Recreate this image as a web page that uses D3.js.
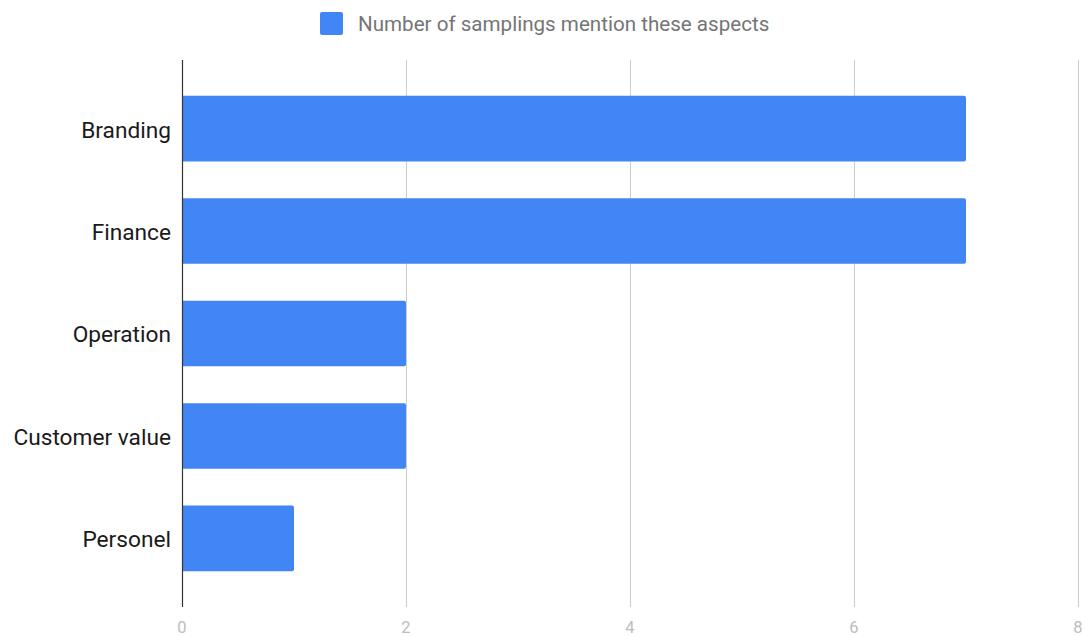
<!DOCTYPE html>
<html>
<head>
<meta charset="utf-8">
<script src="https://cdn.jsdelivr.net/npm/d3@7"></script>
<style>
  body { margin: 0; background: #fff; }
  svg { display: block; font-family: Roboto, sans-serif; }
</style>
</head>
<body>
<svg id="chart" width="1086" height="636"></svg>
<script>
var categories = ["Branding", "Finance", "Operation", "Customer value", "Personel"];
var values = [7, 7, 2, 2, 1];
var xTicks = [0, 2, 4, 6, 8];
var seriesName = "Number of samplings mention these aspects";

var svg = d3.select("#chart");
var plotLeft = 182, plotRight = 1078, plotTop = 60, plotBottom = 607;

var x = d3.scaleLinear().domain([0, 8]).range([plotLeft, plotRight]);
var y = d3.scaleBand().domain(categories).range([plotTop, plotBottom])
    .paddingInner(0.36).paddingOuter(0.35);

// gridlines
svg.selectAll(".grid")
    .data(xTicks.filter(d => d > 0))
    .enter().append("line")
    .attr("x1", d => x(d) + 0.5).attr("x2", d => x(d) + 0.5)
    .attr("y1", plotTop).attr("y2", plotBottom)
    .attr("stroke", "#cccccc").attr("stroke-width", 1);

// tick labels
svg.selectAll(".tick")
    .data(xTicks)
    .enter().append("text")
    .attr("x", d => x(d)).attr("y", 633)
    .attr("text-anchor", "middle")
    .attr("font-size", "16.5px")
    .attr("fill", "#bdbdbd")
    .text(d => d);

// bars with rounded right end
var r = 2;
svg.selectAll(".bar")
    .data(categories)
    .enter().append("path")
    .attr("fill", "#4285f4")
    .attr("d", function(d, i) {
        var x0 = x(0), x1 = x(values[i]), y0 = y(d), h = y.bandwidth();
        return "M" + x0 + "," + y0 + "H" + (x1 - r) +
            "Q" + x1 + "," + y0 + " " + x1 + "," + (y0 + r) +
            "V" + (y0 + h - r) +
            "Q" + x1 + "," + (y0 + h) + " " + (x1 - r) + "," + (y0 + h) +
            "H" + x0 + "Z";
    });

// axis line
svg.append("line")
    .attr("x1", plotLeft + 0.5).attr("x2", plotLeft + 0.5)
    .attr("y1", plotTop).attr("y2", plotBottom)
    .attr("stroke", "#333333").attr("stroke-width", 1.2);

// category labels
svg.selectAll(".cat")
    .data(categories)
    .enter().append("text")
    .attr("x", 171)
    .attr("y", d => y(d) + y.bandwidth() / 2 + 1)
    .attr("dy", "0.35em")
    .attr("text-anchor", "end")
    .attr("font-size", "22.7px")
    .attr("fill", "#1a1a1a")
    .text(d => d);

// legend
svg.append("rect")
    .attr("x", 320).attr("y", 12).attr("width", 23).attr("height", 23)
    .attr("rx", 2).attr("fill", "#4285f4");
svg.append("text")
    .attr("x", 358).attr("y", 24)
    .attr("dy", "0.35em")
    .attr("font-size", "20.6px")
    .attr("fill", "#757575")
    .text(seriesName);
</script>
</body>
</html>
